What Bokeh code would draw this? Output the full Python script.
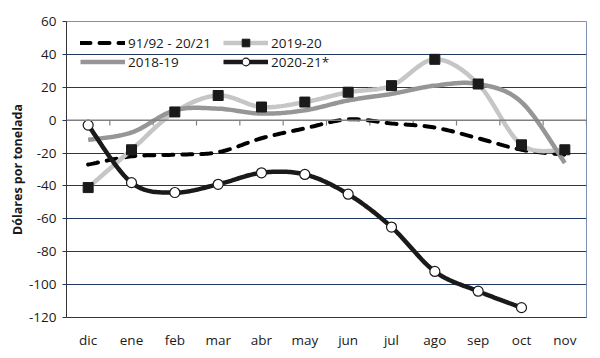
import numpy as np
from bokeh.plotting import figure
from bokeh.models import (Range1d, FixedTicker, Span, Legend, LegendItem)
from bokeh.embed import file_html
from bokeh.resources import INLINE

months = ["dic", "ene", "feb", "mar", "abr", "may", "jun", "jul", "ago", "sep", "oct", "nov"]
avg_9192_2021 = [-27, -22, -21, -19.5, -11, -5, 0.5, -2, -4.5, -11, -18, -21]
s_2019_20 = [-41, -18, 5, 15, 8, 11, 17, 21, 37, 22, -15, -18]
s_2018_19 = [-12, -7.5, 6, 7, 4, 6, 12, 16, 21, 22, 11, -26]
s_2020_21 = [-3, -38, -44, -39, -32, -33, -45, -65, -92, -104, -114]
y_ticks = [-120, -100, -80, -60, -40, -20, 0, 20, 40, 60]

FONT = "Open Sans"
TXT = "#1a1a1a"
GRID = "#1f3864"


def smooth(ys, n=24):
    """Excel-like smoothed line (uniform Catmull-Rom through the data points)."""
    xs = np.arange(len(ys), dtype=float)
    ys = np.asarray(ys, dtype=float)
    P = np.column_stack([xs, ys])
    P = np.vstack([P[0], P, P[-1]])
    out = []
    t = np.linspace(0, 1, n, endpoint=False)
    for i in range(1, len(P) - 2):
        p0, p1, p2, p3 = P[i - 1], P[i], P[i + 1], P[i + 2]
        c1 = p1 + (p2 - p0) / 6.0
        c2 = p2 - (p3 - p1) / 6.0
        tt = t[:, None]
        seg = ((1 - tt) ** 3) * p1 + 3 * ((1 - tt) ** 2) * tt * c1 + 3 * (1 - tt) * tt ** 2 * c2 + tt ** 3 * p2
        out.append(seg)
    out.append(P[-2][None, :])
    out = np.vstack(out)
    return out[:, 0], out[:, 1]


p = figure(width=598, height=353, x_range=Range1d(-0.5, len(months) - 0.5),
           y_range=Range1d(y_ticks[0], y_ticks[-1]),
           output_backend="svg", toolbar_location=None,
           min_border_left=66, min_border_right=12, min_border_top=21, min_border_bottom=36)
p.outline_line_color = "#8090b0"
p.outline_line_width = 1
p.background_fill_color = "white"
p.border_fill_color = "white"

p.xgrid.grid_line_color = None
p.ygrid.ticker = FixedTicker(ticks=y_ticks)
p.ygrid.grid_line_color = GRID
p.ygrid.grid_line_width = 1

p.xaxis.ticker = FixedTicker(ticks=list(range(len(months))))
p.xaxis.major_label_overrides = {i: m for i, m in enumerate(months)}
p.xaxis.major_tick_line_color = None
p.xaxis.minor_tick_line_color = None
p.xaxis.axis_line_color = GRID
p.xaxis.major_label_standoff = 7
p.xaxis.major_label_text_font = FONT
p.xaxis.major_label_text_font_size = "13.5px"
p.xaxis.major_label_text_color = TXT

p.yaxis.ticker = FixedTicker(ticks=y_ticks)
p.yaxis.major_label_overrides = {t: str(t) for t in y_ticks}
p.yaxis.axis_line_color = "#333333"
p.yaxis.major_tick_line_color = GRID
p.yaxis.major_tick_out = 4
p.yaxis.major_tick_in = 0
p.yaxis.minor_tick_line_color = None
p.yaxis.major_label_standoff = 6
p.yaxis.major_label_text_font = FONT
p.yaxis.major_label_text_font_size = "13.5px"
p.yaxis.major_label_text_color = TXT
p.yaxis.axis_label = "Dólares por tonelada"
p.yaxis.axis_label_standoff = 0
p.yaxis.axis_label_text_font = FONT
p.yaxis.axis_label_text_font_size = "12.5px"
p.yaxis.axis_label_text_font_style = "bold"
p.yaxis.axis_label_text_color = TXT

# zero axis line with category-boundary ticks
p.add_layout(Span(location=0, dimension="width", line_color="#808080", line_width=1.5))
bounds = [i + 0.5 for i in range(len(months))]
p.segment(x0=bounds, y0=[0] * len(bounds), x1=bounds, y1=[-3.2] * len(bounds),
          line_color="#808080", line_width=1.2)

# series
x_idx = list(range(len(months)))

sx, sy = smooth(avg_9192_2021)
r_avg = p.line(sx, sy, line_color="black", line_width=4, line_dash="10 9", line_cap="round")

sx, sy = smooth(s_2019_20)
r19 = p.line(sx, sy, line_color="#c6c6c6", line_width=4.5)
sx, sy = smooth(s_2018_19)
r18 = p.line(sx, sy, line_color="#969696", line_width=4.5)
r19m = p.scatter(x_idx, s_2019_20, marker="square", size=10, fill_color="#1a1a1a", line_color="#1a1a1a")

sx, sy = smooth(s_2020_21)
r20 = p.line(sx, sy, line_color="#1a1a1a", line_width=4.5)
r20m = p.scatter(list(range(len(s_2020_21))), s_2020_21, marker="circle", size=10,
                 fill_color="white", line_color="#1a1a1a", line_width=1.2)

legend = Legend(items=[
    LegendItem(label="91/92 - 20/21", renderers=[r_avg]),
    LegendItem(label="2019-20", renderers=[r19, r19m]),
    LegendItem(label="2018-19", renderers=[r18]),
    LegendItem(label="2020-21*", renderers=[r20, r20m]),
], location=(14, 246), orientation="horizontal", nrows=2,
    padding=0, margin=0, spacing=0, glyph_width=45, glyph_height=19, label_height=19,
    label_width=95, label_standoff=3, background_fill_alpha=0, border_line_color=None,
    label_text_font=FONT, label_text_font_size="13.5px", label_text_color=TXT)
p.add_layout(legend)

open("out.html", "w").write(file_html(p, INLINE))
